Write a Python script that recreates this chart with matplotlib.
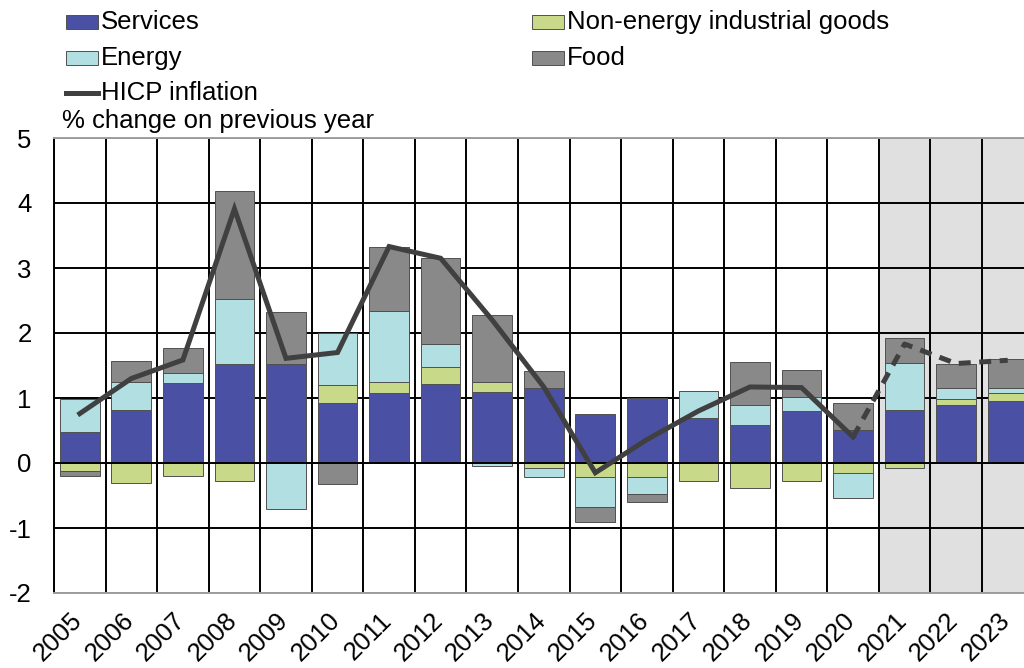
import matplotlib
matplotlib.use("Agg")
import matplotlib.pyplot as plt
from matplotlib.patches import Rectangle
from matplotlib.lines import Line2D
from matplotlib.transforms import ScaledTranslation
import numpy as np

plt.rcParams['font.family'] = ['Liberation Sans', 'DejaVu Sans']
plt.rcParams['axes.unicode_minus'] = False

years = [str(y) for y in range(2005, 2024)]
services = [0.47, 0.815, 1.235, 1.52, 1.52, 0.93, 1.07, 1.215, 1.10, 1.16,
            0.76, 0.995, 0.69, 0.585, 0.80, 0.51, 0.815, 0.89, 0.95]
neig = [-0.13, -0.30, -0.195, -0.28, 0.0, 0.27, 0.17, 0.255, 0.15, -0.07,
        -0.22, -0.21, -0.27, -0.39, -0.28, -0.16, -0.07, 0.09, 0.12]
energy = [0.51, 0.435, 0.145, 1.0, -0.70, 0.80, 1.10, 0.36, -0.05, -0.14,
          -0.46, -0.26, 0.42, 0.315, 0.22, -0.38, 0.725, 0.18, 0.08]
food = [-0.065, 0.32, 0.39, 1.67, 0.81, -0.32, 0.98, 1.33, 1.02, 0.26,
        -0.23, -0.125, 0.0, 0.65, 0.41, 0.41, 0.38, 0.37, 0.445]
hicp = [0.76, 1.30, 1.585, 3.91, 1.61, 1.70, 3.33, 3.15, 2.2, 1.17,
        -0.15, 0.36, 0.80, 1.17, 1.16, 0.40, 1.83, 1.53, 1.58]
n_actual = 16  # 2005-2020 actual, 2021-2023 projections

c_serv = '#4a50a3'
c_neig = '#c9d98a'
c_energy = '#b2dfe2'
c_food = '#898989'
c_line = '#404040'

W, H = 1024, 668
fig = plt.figure(figsize=(W / 100, H / 100), dpi=100)
ax = fig.add_axes([54 / W, 1 - 593 / H, (1033.5 - 54) / W, (593 - 138) / H])

x = np.arange(len(years))
ax.axvspan(n_actual - 0.5, len(years) - 0.5, color='#e0e0e0', zorder=0, lw=0)

series = [(services, c_serv), (neig, c_neig), (energy, c_energy), (food, c_food)]
pos_base = np.zeros(len(years))
neg_base = np.zeros(len(years))
bw = 0.77
for vals, col in series:
    v = np.array(vals)
    base = np.where(v >= 0, pos_base, neg_base)
    ax.bar(x, v, bw, bottom=base, color=col, edgecolor='#505050', linewidth=0.7, zorder=3)
    pos_base = pos_base + np.where(v >= 0, v, 0)
    neg_base = neg_base + np.where(v < 0, v, 0)

ax.plot(x[:n_actual], hicp[:n_actual], color=c_line, lw=3.6, zorder=5,
        solid_joinstyle='miter')
ax.plot(x[n_actual - 1:], hicp[n_actual - 1:], color=c_line, lw=3.6, zorder=5,
        dashes=(2.4, 1.7))

ax.axhline(0, color='black', lw=1.4, zorder=4)

fs = 18.5
ax.set_xlim(-0.5, len(years) - 0.5)
ax.set_ylim(-2, 5)
ax.set_yticks(range(-2, 6))
ax.set_xticks(x)
ax.set_xticklabels(years, rotation=45, ha='right', va='top', rotation_mode='anchor')
ax.set_xticks(np.arange(-0.5, len(years)), minor=True)
ax.tick_params(axis='both', which='both', length=0, labelsize=fs)
ax.tick_params(axis='y', pad=16)
ax.tick_params(axis='x', pad=11)
off = ScaledTranslation(-10 / 100, 0, fig.dpi_scale_trans)
for lbl in ax.get_xticklabels():
    lbl.set_transform(lbl.get_transform() + off)

ax.set_axisbelow(True)
ax.grid(True, axis='y', which='major', color='black', lw=1.4)
ax.grid(True, axis='x', which='minor', color='black', lw=1.4)
ax.grid(False, axis='x', which='major')

ax.spines['left'].set_color('black')
ax.spines['left'].set_linewidth(1.4)
for s in ['top', 'bottom']:
    ax.spines[s].set_color('#a0a0a0')
    ax.spines[s].set_linewidth(1.4)
ax.spines['right'].set_visible(False)

# Legend drawn manually
def patch(px, py, col):
    fig.add_artist(Rectangle((px / W, 1 - (py + 7) / H), 32 / W, 14 / H,
                             transform=fig.transFigure, facecolor=col,
                             edgecolor='#505050', lw=0.7))

items = [(66, 22, 'Services', c_serv), (66, 58, 'Energy', c_energy),
         (532, 22, 'Non-energy industrial goods', c_neig), (532, 58, 'Food', c_food)]
for px, py, lab, col in items:
    patch(px, py, col)
    fig.text((px + 35) / W, 1 - py / H, lab, fontsize=fs, va='center', ha='left')
fig.add_artist(Line2D([66 / W, 98 / W], [1 - 93 / H, 1 - 93 / H], transform=fig.transFigure,
                      color=c_line, lw=3.6))
fig.text(101 / W, 1 - 93 / H, 'HICP inflation', fontsize=fs, va='center', ha='left')
fig.text(62 / W, 1 - 121 / H, '% change on previous year', fontsize=fs, va='center', ha='left')

fig.savefig('out.png', dpi=100)
